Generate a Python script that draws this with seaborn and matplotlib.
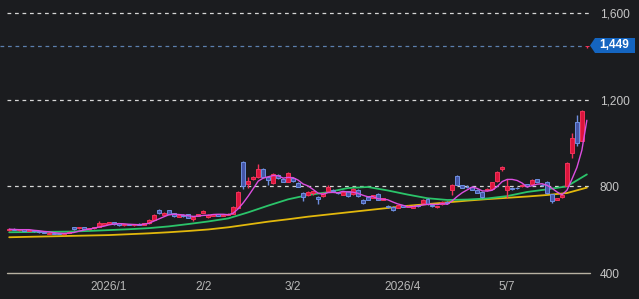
import numpy as np
import pandas as pd
import matplotlib
matplotlib.use('Agg')
import matplotlib.pyplot as plt
from matplotlib.patches import Polygon
import seaborn as sns

# daily candles, index 0 = first visible session (early Dec 2025)
opens = [598, 604, 598, 601, 595, 598, 592, 590, 580, 586,
         584, 579, 585, 612, 608, 612, 603, 606, 614, 622,
         627, 634, 630, 620, 626, 621, 627, 623, 630, 645,
         692, 668, 690, 676, 659, 668, 672, 650, 663, 678,
         659, 665, 672, 664, 668, 672, 702, 910, 812, 834,
         842, 880, 843, 815, 852, 834, 820, 838, 815, 769,
         760, 769, 752, 755, 780, 784, 772, 761, 778, 765,
         784, 737, 751, 746, 765, 737, 709, 705, 700, 714,
         705, 702, 712, 723, 741, 712, 703, 718, 730, 783,
         848, 806, 799, 797, 783, 774, 782, 788, 826, 878,
         781, 792, 794, 800, 811, 810, 833, 808, 820, 764,
         737, 750, 801, 952, 1097, 1010, 1446]
highs = [606, 606, 603, 603, 600, 600, 594, 592, 587, 588,
         586, 586, 592, 614, 614, 614, 608, 613, 638, 632,
         637, 636, 632, 627, 628, 628, 629, 632, 647, 674,
         695, 680, 692, 679, 670, 670, 674, 659, 674, 690,
         670, 674, 674, 670, 676, 708, 778, 915, 842, 846,
         902, 885, 846, 860, 856, 838, 864, 842, 818, 772,
         780, 779, 754, 772, 806, 788, 775, 776, 780, 792,
         786, 740, 754, 762, 768, 748, 712, 708, 716, 716,
         712, 712, 716, 740, 744, 714, 709, 730, 732, 812,
         852, 808, 804, 800, 786, 777, 790, 822, 870, 893,
         832, 797, 799, 809, 813, 832, 836, 812, 823, 766,
         748, 761, 910, 1045, 1128, 1150, 1449]
lows = [595, 597, 595, 594, 592, 590, 586, 584, 578, 579,
        578, 577, 583, 598, 604, 602, 600, 604, 612, 620,
        625, 622, 618, 617, 620, 619, 621, 620, 628, 643,
        672, 666, 670, 658, 657, 660, 652, 640, 661, 675,
        656, 663, 661, 662, 666, 670, 700, 788, 790, 830,
        838, 838, 806, 812, 836, 818, 818, 822, 795, 732,
        757, 760, 718, 752, 776, 776, 766, 758, 752, 762,
        752, 718, 735, 744, 735, 735, 702, 688, 698, 703,
        703, 700, 704, 720, 716, 706, 701, 716, 718, 760,
        804, 790, 793, 781, 767, 748, 780, 786, 822, 870,
        746, 785, 788, 797, 798, 808, 818, 800, 765, 724,
        735, 748, 800, 930, 985, 1008, 1438]
closes = [604, 599, 601, 596, 598, 592, 588, 586, 585, 581,
          580, 584, 590, 601, 611, 604, 606, 611, 630, 630,
          634, 625, 621, 625, 622, 626, 623, 630, 645, 670,
          675, 676, 672, 661, 667, 663, 655, 657, 671, 684,
          667, 671, 664, 668, 673, 705, 774, 800, 825, 843,
          880, 842, 830, 856, 839, 821, 860, 826, 798, 752,
          776, 777, 741, 768, 795, 779, 768, 773, 756, 788,
          756, 724, 738, 760, 738, 746, 706, 691, 714, 706,
          709, 710, 708, 737, 720, 708, 707, 728, 721, 805,
          807, 793, 796, 784, 770, 752, 788, 818, 866, 888,
          800, 789, 791, 806, 801, 829, 821, 805, 769, 730,
          745, 758, 906, 1024, 1000, 1147, 1449]

# moving averages
ma5 = [602, 601, 600, 600, 600, 597, 595, 592, 590, 586,
       584, 583, 584, 587, 593, 598, 602, 607, 612, 616,
       622, 626, 628, 627, 625, 624, 623, 625, 629, 639,
       649, 659, 668, 671, 670, 668, 664, 661, 663, 666,
       667, 670, 671, 671, 669, 676, 697, 724, 755, 789,
       824, 838, 844, 850, 849, 838, 841, 840, 829, 811,
       802, 786, 769, 763, 771, 772, 770, 777, 774, 773,
       768, 759, 752, 753, 743, 741, 738, 728, 719, 713,
       705, 706, 709, 714, 717, 717, 716, 720, 717, 734,
       754, 771, 784, 797, 790, 779, 778, 782, 799, 822,
       832, 832, 827, 815, 797, 803, 810, 812, 805, 791,
       774, 761, 782, 833, 887, 967, 1105]
ma_idx = list(range(0, 117, 4))
ma25 = [588, 589, 590, 591, 594, 598, 602, 607, 615, 626,
        638, 652, 680, 711, 740, 760, 773, 792, 797, 781,
        762, 745, 737, 739, 744, 755, 774, 786, 800, 855]
ma75 = [565, 567, 569, 571, 573, 575, 579, 583, 588, 594,
        601, 611, 624, 637, 648, 660, 670, 680, 690, 700,
        710, 718, 726, 734, 741, 747, 753, 760, 769, 794]

date_ticks = [20, 39, 57, 79, 100]
date_labels = ['2026/1', '2/2', '3/2', '2026/4', '5/7']
price_ticks = [400, 800, 1200, 1600]
last_price = 1449

df = pd.DataFrame({'open': opens, 'high': highs, 'low': lows, 'close': closes})
df['idx'] = np.arange(len(df))
df['up'] = df['close'] >= df['open']

bg = '#1b1c1f'
sns.set_theme(style='dark')
plt.rcParams['font.family'] = ['Liberation Sans', 'DejaVu Sans']

fig = plt.figure(figsize=(6.39, 2.99), dpi=100, facecolor=bg)
ax = fig.add_axes([7 / 639, 26 / 299, 583 / 639, 273 / 299])
ax.set_facecolor(bg)
ax.grid(False)
for s in ax.spines.values():
    s.set_visible(False)

# grid / reference lines
for p in price_ticks[1:]:
    ax.axhline(p, color='#d6d6d6', lw=0.9, ls=(0, (3, 3)), zorder=1)
ax.axhline(400, color='#b8b1a2', lw=1.0, zorder=1, clip_on=False)
ax.axhline(last_price, xmin=-0.012, xmax=0.99, color='#5b7fae', lw=0.9,
           ls=(0, (3, 3)), zorder=1, clip_on=False)

# slower moving averages under the candles
sns.lineplot(x=ma_idx, y=ma75, ax=ax, color='#e2b80c', lw=1.3, zorder=2)
sns.lineplot(x=ma_idx, y=ma25, ax=ax, color='#2bc46a', lw=1.3, zorder=2)

# candles
red_face, red_edge = '#dc143c', '#f0335a'
blue_face, blue_edge = '#4556a8', '#6e8fe0'
face = np.where(df['up'], red_face, blue_face)
edge = np.where(df['up'], red_edge, blue_edge)
ax.vlines(df['idx'], df['low'], df['high'], colors=edge, lw=1.0, zorder=3)
body_lo = np.minimum(df['open'], df['close'])
body_h = np.maximum((df['close'] - df['open']).abs(), 3)
ax.bar(df['idx'], body_h, bottom=body_lo, width=0.8, color=face,
       edgecolor=edge, linewidth=0.7, zorder=4)

# short moving average on top
sns.lineplot(x=df['idx'], y=ma5, ax=ax, color='#dc4ee0', lw=1.0, zorder=5)

ax.set_xlim(-0.44, 116.63)
ax.set_ylim(400, 1660)
ax.set_xlabel('')
ax.set_ylabel('')

ax.yaxis.tick_right()
ax.set_yticks(price_ticks)
ax.set_yticklabels([f'{p:,}' for p in price_ticks])
ax.tick_params(axis='y', length=0, pad=7, labelcolor='#c6c6c6', labelsize=8.6)
ax.set_xticks(date_ticks)
ax.set_xticklabels(date_labels)
ax.tick_params(axis='x', length=0, pad=6, labelcolor='#b8b8b8', labelsize=8.6)

# last price badge (arrow pointing at the price line)
badge = [(590, 45.5), (595, 38), (635, 38), (635, 53), (595, 53)]
fig.patches.append(Polygon([(x / 639, 1 - y / 299) for x, y in badge],
                           closed=True, transform=fig.transFigure,
                           facecolor='#1565c0', edgecolor='none'))
fig.text(614 / 639, (299 - 45.5) / 299, f'{last_price:,}', color='white',
         fontsize=8.6, fontweight='bold', ha='center', va='center')

fig.savefig('out.png', dpi=100, facecolor=bg)
